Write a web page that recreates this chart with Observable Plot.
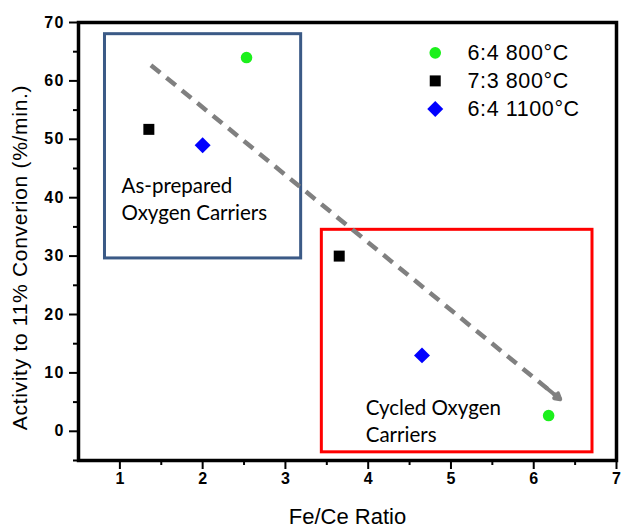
<!DOCTYPE html>
<html><head><meta charset="utf-8">
<script src="https://cdn.jsdelivr.net/npm/d3@7"></script>
<script src="https://cdn.jsdelivr.net/npm/@observablehq/plot@0.6"></script>
<style>
body{margin:0;background:#fff;overflow:hidden}
g.ticklab text {letter-spacing:1.2px}
g.legend-text text {letter-spacing:0.6px}
g.ylab text {letter-spacing:0.7px}
</style>
</head><body><div id="chart"></div>
<script>
// data
const seriesNames = ["6:4 800°C", "7:3 800°C", "6:4 1100°C"];
const seriesColors = ["#1cf01c", "#000000", "#0000ff"];
const seriesSymbols = ["circle", "square", "diamond2"];
const seriesSizes = [5.8, 6.2, 7.2];
const ratio =    [2.53, 1.35, 2.00, 3.65, 4.65, 6.18];
const activity = [64.0, 51.7, 49.0, 30.0, 13.0, 2.7];
const seriesOf = [0, 1, 2, 1, 2, 0];

const xTicks = [1, 2, 3, 4, 5, 6, 7];
const xMinor = [1.5, 2.5, 3.5, 4.5, 5.5, 6.5];
const yTicks = [0, 10, 20, 30, 40, 50, 60, 70];
const yMinor = [-5, 5, 15, 25, 35, 45, 55, 65];

// annotation boxes
const boxX1 = [0.82, 3.44];
const boxX2 = [3.19, 6.71];
const boxY1 = [29.6, -3.6];
const boxY2 = [68.0, 34.5];
const boxColors = ["#3b5a86", "#ff0000"];

// annotation texts
const noteText = ["As-prepared", "Oxygen Carriers", "Cycled Oxygen", "Carriers"];
const noteX = [1.02, 1.02, 3.97, 3.97];
const noteY = [41.9, 37.3, 3.9, -0.7];

// trend arrow (start, end)
const arrowX = [1.375, 6.32];
const arrowY = [62.7, 5.5];

// legend placement (data units)
const legendDotX = 4.81;
const legendTextX = 5.2;
const legendY = [64.8, 60.0, 55.2];

const points = ratio.map((x, i) => ({x, y: activity[i], s: seriesOf[i]}));
const boxes = boxX1.map((x1, i) => ({x1, x2: boxX2[i], y1: boxY1[i], y2: boxY2[i], c: boxColors[i]}));
const notes = noteText.map((t, i) => ({t, x: noteX[i], y: noteY[i]}));
const legend = seriesNames.map((n, i) => ({n, s: i, y: legendY[i]}));
const t = 0.965;
const headStart = {x: arrowX[0] + t * (arrowX[1] - arrowX[0]), y: arrowY[0] + t * (arrowY[1] - arrowY[0])};

const marks = [
  Plot.rect(boxes, {x1: "x1", x2: "x2", y1: "y1", y2: "y2", stroke: "c", fill: "none", strokeWidth: 3}),
  Plot.link([{x1: arrowX[0], y1: arrowY[0], x2: arrowX[1], y2: arrowY[1]}], {x1: "x1", y1: "y1", x2: "x2", y2: "y2", stroke: "#808080", strokeWidth: 4.5, strokeDasharray: "12,8"}),
  Plot.arrow([{x1: headStart.x, y1: headStart.y, x2: arrowX[1], y2: arrowY[1]}], {x1: "x1", y1: "y1", x2: "x2", y2: "y2", stroke: "#808080", strokeWidth: 4, headLength: 16, bend: 0}),
  Plot.text(notes, {x: "x", y: "y", text: "t", textAnchor: "start", fontSize: 20.5, fontFamily: "Lato", fill: "#000"}),
  Plot.axisY(yTicks, {tickSize: 9, text: null, strokeWidth: 2, label: null}),
  Plot.axisY(yMinor, {tickSize: 5, text: null, strokeWidth: 2, label: null}),
  Plot.axisX(xTicks, {tickSize: 9, text: null, strokeWidth: 2, label: null}),
  Plot.axisX(xMinor, {tickSize: 5, text: null, strokeWidth: 2, label: null}),
  Plot.text(yTicks, {y: d => d, frameAnchor: "left", text: d => String(d), textAnchor: "end", dx: -14, fontSize: 16, fontWeight: "bold", fill: "#000", className: "ticklab"}),
  Plot.text(xTicks, {x: d => d, frameAnchor: "bottom", text: d => String(d), textAnchor: "middle", dx: 0.6, dy: 23, fontSize: 16, fontWeight: "bold", fill: "#000", className: "ticklab"}),
  Plot.frame({stroke: "#000", strokeWidth: 3.5}),
  Plot.text(["Activity to 11% Converion (%/min.)"], {frameAnchor: "left", textAnchor: "middle", rotate: -90, dx: -58, dy: 16, fontSize: 21, fill: "#000", className: "ylab"}),
  Plot.text(["Fe/Ce Ratio"], {frameAnchor: "bottom", dy: 63, fontSize: 22, fill: "#000"})
];
seriesNames.forEach((name, i) => {
  marks.push(Plot.dot(points.filter(d => d.s === i), {x: "x", y: "y", symbol: () => seriesSymbols[i], fill: seriesColors[i], r: seriesSizes[i], stroke: "none"}));
  marks.push(Plot.dot([legend[i]], {x: () => legendDotX, y: "y", symbol: () => seriesSymbols[i], fill: seriesColors[i], r: seriesSizes[i], stroke: "none"}));
});
marks.push(Plot.text(legend, {x: () => legendTextX, y: "y", text: "n", textAnchor: "start", fontSize: 21.5, fill: "#000", className: "legend-text"}));

const plot = Plot.plot({
  width: 621, height: 527,
  marginLeft: 78, marginRight: 5, marginTop: 22, marginBottom: 67,
  x: {domain: [0.5, 7]},
  y: {domain: [-5, 70]},
  color: {type: "identity"},
  symbol: {type: "identity"},
  style: {fontFamily: "'Liberation Sans', Arial, sans-serif", background: "#fff", color: "#000"},
  marks
});
document.getElementById("chart").appendChild(plot);
</script>
</body></html>
